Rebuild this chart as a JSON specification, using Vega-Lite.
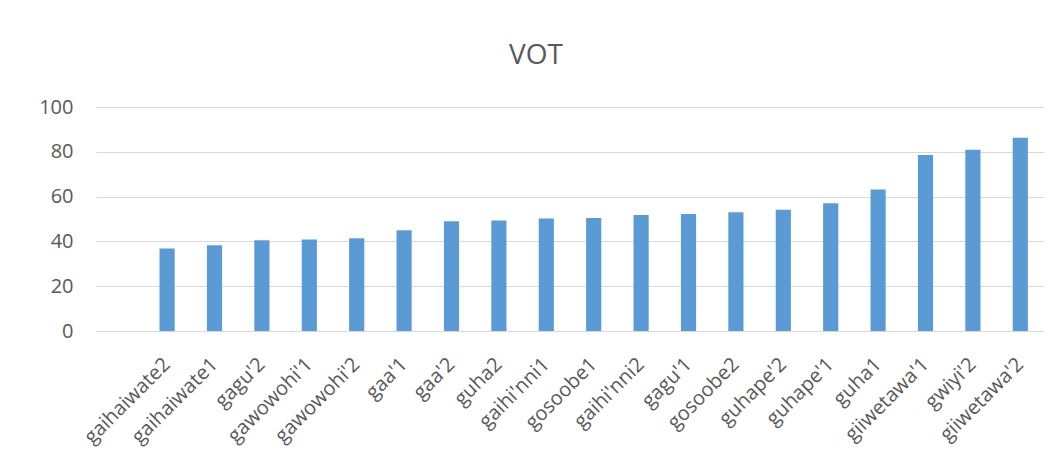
{
  "$schema": "https://vega.github.io/schema/vega-lite/v6.json",
  "width": 948,
  "height": 224,
  "autosize": "none",
  "padding": {"left": 96, "top": 107, "right": 13, "bottom": 130},
  "title": {
    "text": "VOT",
    "font": "Open Sans",
    "fontSize": 28,
    "fontWeight": "normal",
    "color": "#595959",
    "anchor": "middle",
    "baseline": "alphabetic",
    "dx": -34,
    "offset": 5
  },
  "data": {
    "values": [
      {"word": "gaihaiwate2", "vot": 36.8},
      {"word": "gaihaiwate1", "vot": 38.3},
      {"word": "gagu'2", "vot": 40.5},
      {"word": "gawowohi'1", "vot": 40.8},
      {"word": "gawowohi'2", "vot": 41.4},
      {"word": "gaa'1", "vot": 45.0},
      {"word": "gaa'2", "vot": 49.0},
      {"word": "guha2", "vot": 49.3},
      {"word": "gaihi'nni1", "vot": 50.2},
      {"word": "gosoobe1", "vot": 50.5},
      {"word": "gaihi'nni2", "vot": 51.8},
      {"word": "gagu'1", "vot": 52.2},
      {"word": "gosoobe2", "vot": 53.0},
      {"word": "guhape'2", "vot": 54.1},
      {"word": "guhape'1", "vot": 57.0},
      {"word": "guha1", "vot": 63.2},
      {"word": "giiwetawa'1", "vot": 78.6},
      {"word": "gwiyi'2", "vot": 80.9},
      {"word": "giiwetawa'2", "vot": 86.3}
    ]
  },
  "mark": {"type": "bar", "color": "#5b9bd5"},
  "encoding": {
    "x": {
      "field": "word",
      "type": "nominal",
      "sort": null,
      "scale": {
        "domain": ["", "gaihaiwate2", "gaihaiwate1", "gagu'2", "gawowohi'1", "gawowohi'2", "gaa'1", "gaa'2", "guha2", "gaihi'nni1", "gosoobe1", "gaihi'nni2", "gagu'1", "gosoobe2", "guhape'2", "guhape'1", "guha1", "giiwetawa'1", "gwiyi'2", "giiwetawa'2"],
        "paddingInner": 0.68,
        "paddingOuter": 0.34
      },
      "axis": {
        "title": null,
        "domain": false,
        "ticks": false,
        "grid": false,
        "labelAngle": -45,
        "labelAlign": "right",
        "labelBaseline": "middle",
        "labelPadding": 30,
        "labelFont": "Open Sans",
        "labelFontSize": 20,
        "labelColor": "#595959",
        "labelOverlap": false
      }
    },
    "y": {
      "field": "vot",
      "type": "quantitative",
      "scale": {"domain": [0, 100]},
      "axis": {
        "title": null,
        "values": [0, 20, 40, 60, 80, 100],
        "domain": false,
        "ticks": false,
        "grid": true,
        "gridColor": "#d9d9d9",
        "gridWidth": 1.2,
        "labelPadding": 23,
        "labelFont": "Open Sans",
        "labelFontSize": 20,
        "labelColor": "#595959"
      }
    }
  },
  "config": {
    "view": {"stroke": null},
    "font": "Open Sans"
  }
}
